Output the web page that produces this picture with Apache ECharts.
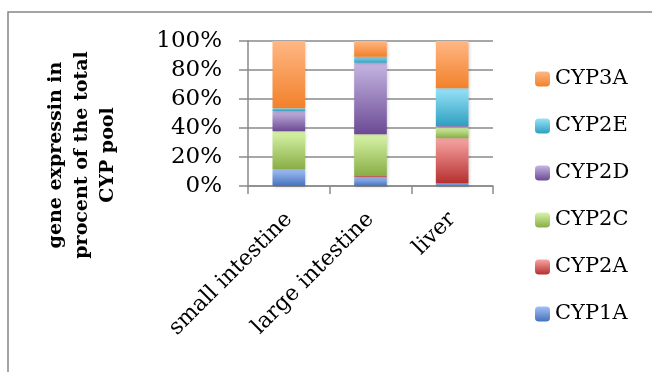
<!DOCTYPE html>
<html><head><meta charset="utf-8">
<script src="https://cdn.jsdelivr.net/npm/echarts@6/dist/echarts.min.js"></script>
<style>html,body{margin:0;padding:0;background:#fff}#c{width:652px;height:372px}</style>
</head><body><div id="c"></div>
<script>
const categories = ['small intestine', 'large intestine', 'liver'];
const seriesNames = ['CYP1A', 'CYP2A', 'CYP2C', 'CYP2D', 'CYP2E', 'CYP3A'];
const CYP1A = [11.5, 6.2, 1.8];
const CYP2A = [0, 0.7, 31.2];
const CYP2C = [26.3, 28.8, 7.6];
const CYP2D = [14.0, 49.3, 0.7];
const CYP2E = [1.9, 4.2, 26.2];
const CYP3A = [46.3, 10.8, 32.5];
const yTicks = ['0%', '20%', '40%', '60%', '80%', '100%'];

const values = [CYP1A, CYP2A, CYP2C, CYP2D, CYP2E, CYP3A];
const grads = [
  ['#a3c0f5', '#4571bd'],
  ['#f7a6a3', '#b52f2f'],
  ['#d8f4a9', '#89ad45'],
  ['#c6b6e2', '#6b4a94'],
  ['#98e3f9', '#2e9fc0'],
  ['#ffb784', '#f2812b']
];
const FONT = 'DejaVu Serif';
const chart = echarts.init(document.getElementById('c'));
chart.setOption({
  animation: false,
  grid: { left: 248, right: 159, top: 41, bottom: 186 },
  legend: {
    orient: 'vertical', left: 535, top: 68, padding: 0,
    itemWidth: 15, itemHeight: 15, itemGap: 25,
    data: seriesNames.slice().reverse(),
    textStyle: { fontFamily: FONT, fontSize: 21, color: '#000', lineHeight: 22 }
  },
  xAxis: {
    type: 'category', data: categories,
    axisLine: { lineStyle: { color: '#8a8a8a', width: 1.5 } },
    axisTick: { show: true, length: 8, lineStyle: { color: '#8a8a8a', width: 1.5 } },
    axisLabel: { rotate: 45, margin: 30, fontFamily: FONT, fontSize: 22, color: '#000' }
  },
  yAxis: {
    type: 'value', min: 0, max: 100, interval: 20,
    axisLine: { show: true, lineStyle: { color: '#8a8a8a', width: 1.5 } },
    axisTick: { show: true, length: 9, lineStyle: { color: '#8a8a8a', width: 1.5 } },
    splitLine: { lineStyle: { color: '#8a8a8a', width: 1.5 } },
    axisLabel: { margin: 26, fontFamily: FONT, fontSize: 23, color: '#000',
      formatter: function (v) { return yTicks[Math.round(v / 20)]; } }
  },
  series: seriesNames.map(function (n, i) {
    return {
      name: n, type: 'bar', stack: 'total', barWidth: '40%', data: values[i],
      itemStyle: {
        shadowBlur: 3, shadowColor: 'rgba(0,0,0,0.18)', shadowOffsetX: 1, shadowOffsetY: 1,
        color: new echarts.graphic.LinearGradient(0, 0, 0, 1, [
          { offset: 0, color: grads[i][0] }, { offset: 1, color: grads[i][1] }
        ])
      }
    };
  }),
  graphic: [
    { type: 'rect', shape: { x: 8, y: 12, width: 700, height: 400 }, z: -1,
      style: { fill: 'none', stroke: '#878787', lineWidth: 1.5 } },
    { type: 'text', x: 82, y: 155, rotation: Math.PI / 2,
      style: { text: 'gene expressin in\nprocent of the total\nCYP pool', fontFamily: FONT,
        fontWeight: 'bold', fontSize: 19, lineHeight: 26, align: 'center',
        verticalAlign: 'middle', fill: '#000' } }
  ]
});
</script></body></html>
